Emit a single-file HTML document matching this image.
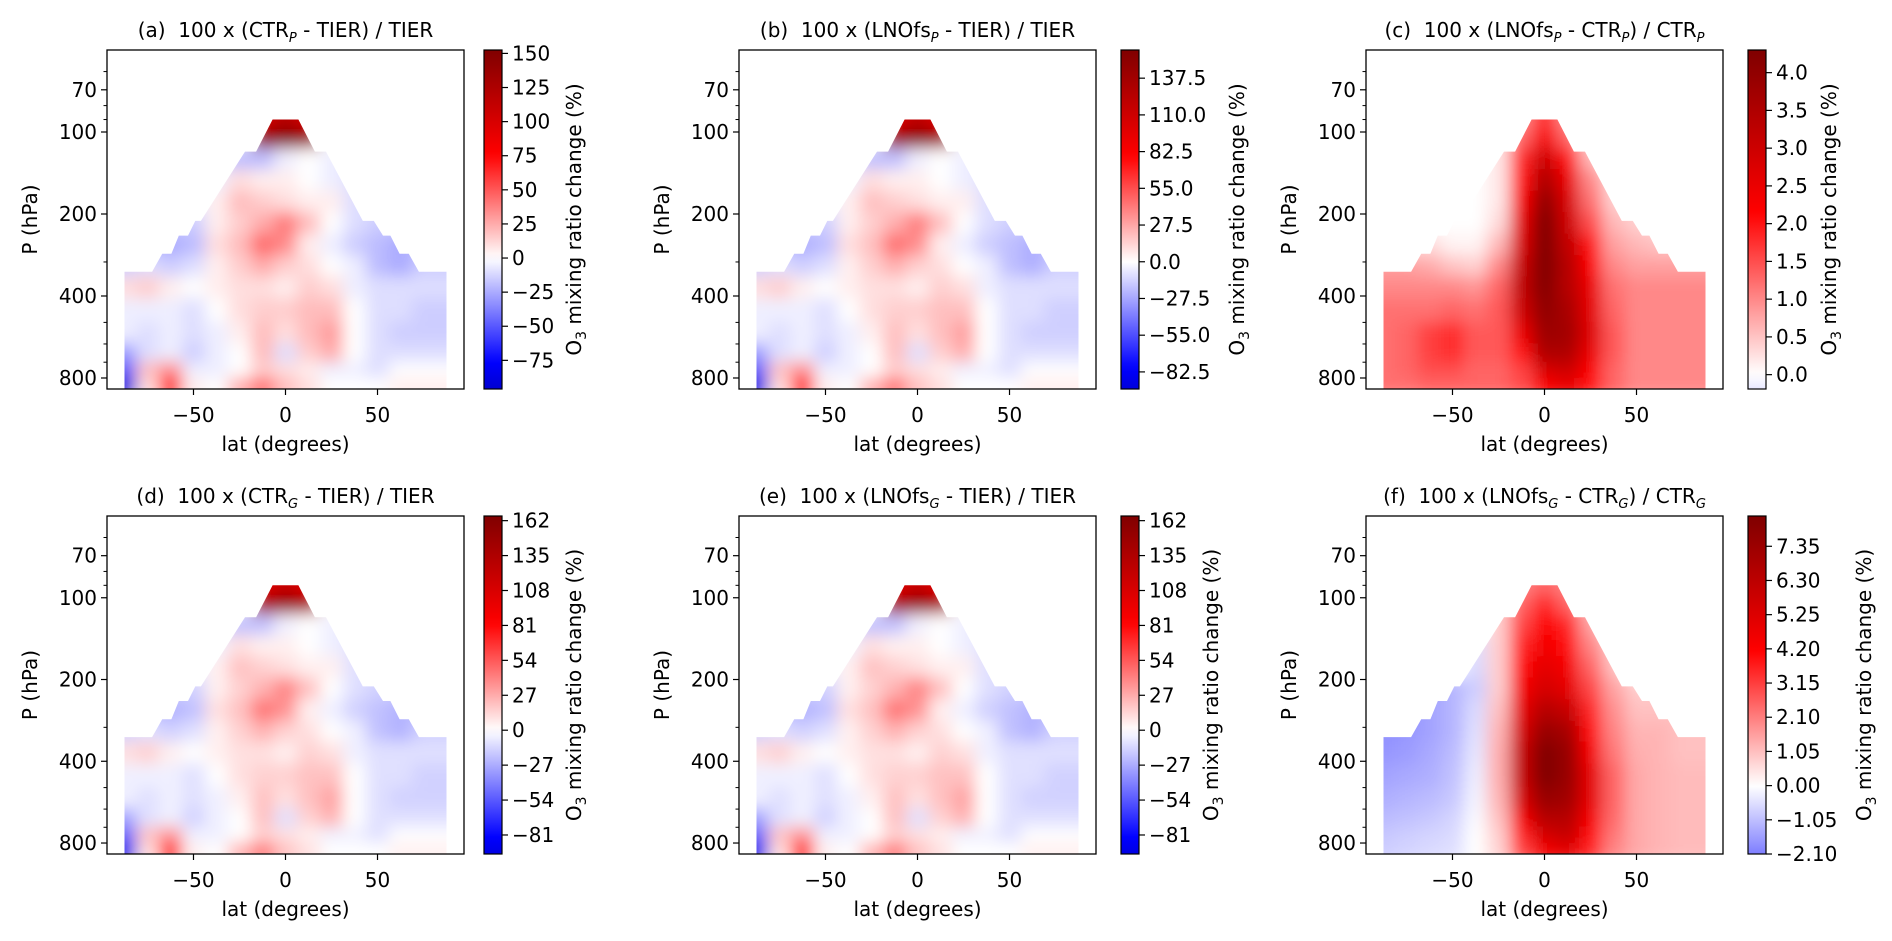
<!DOCTYPE html>
<html><head><meta charset="utf-8"><style>
html,body{margin:0;padding:0;background:#fff;}
svg{display:block;font-family:"DejaVu Sans","Liberation Sans",sans-serif;}
</style></head><body>
<svg id="fig" width="1892" height="941" viewBox="0 0 1892 941" xmlns="http://www.w3.org/2000/svg">
<defs>
<filter id="blur" filterUnits="userSpaceOnUse" x="0" y="0" width="1892" height="941"><feGaussianBlur stdDeviation="8"/></filter>
</defs>
</svg>
<script>
const lats = [-87.5,-75,-62.5,-50,-37.5,-25,-12.5,0,12.5,25,37.5,50,62.5,75,87.5];
const levels = [90,105,125,150,180,215,260,310,370,450,550,650,750,850];
const fieldA = [
[0,0,0,0,0,0,100,120,100,0,0,0,0,0,0],
[0,0,0,0,0,0,140,150,140,0,0,0,0,0,0],
[-10,-10,-10,-10,-10,-20,-20,-5,0,-5,-10,-10,-10,-10,-10],
[-5,-5,-5,-5,-5,10,5,5,0,-5,-10,-10,-10,-10,-10],
[0,0,0,-5,5,20,15,10,5,5,-10,-10,-10,-10,-10],
[-10,-10,-15,-15,5,15,25,40,20,0,-10,-15,-15,-15,-10],
[-15,-20,-25,-20,10,20,45,35,5,-5,-15,-20,-25,-20,-15],
[-15,-10,-15,-10,5,15,25,15,10,0,-5,-20,-25,-15,-15],
[10,15,5,0,5,10,10,5,15,10,-5,-10,-10,-10,-10],
[-5,-5,-5,-10,0,10,15,15,20,20,0,-10,-10,-15,-15],
[-5,-10,-5,-10,-5,5,20,10,20,30,0,-10,-15,-15,-15],
[-30,-10,-5,-15,-5,0,20,-10,15,25,0,-10,-10,-10,-10],
[-50,20,35,-5,-5,0,15,10,5,-5,-5,-10,0,0,0],
[-90,10,75,5,0,25,45,20,10,0,0,0,5,5,5]
];
const fieldC = [
[0,0,0,0,0,0.2,1.0,1.8,1.0,0.2,0,0,0,0,0],
[0,0,0,0,0,0.2,1.3,2.3,1.3,0.3,0,0,0,0,0],
[0,0,0,0,0,0.2,1.8,3.0,2.0,0.6,0,0,0,0,0],
[0,0,0,0,0,0.2,2.0,3.5,2.5,1.0,0.3,0,0,0,0],
[0,0,0,0,0,0.2,2.3,4.0,2.8,1.2,0.4,0.3,0,0,0],
[0,0,0,0,0,0.3,2.6,4.3,3.0,1.5,0.6,0.4,0.3,0,0],
[0.3,0.3,0.3,0.1,0.1,0.6,2.8,4.3,3.2,2.0,0.8,0.6,0.5,0.5,0.5],
[0.8,0.8,0.7,0.5,0.4,1.0,3.1,4.3,3.4,2.2,1.0,0.8,0.8,0.8,0.8],
[1.0,1.0,1.0,1.0,0.9,1.3,3.2,4.2,3.4,2.5,1.2,1.0,1.0,1.0,1.0],
[1.2,1.2,1.2,1.3,1.2,1.4,3.0,4.0,3.6,2.6,1.3,1.0,1.0,1.0,1.0],
[1.2,1.3,1.6,1.8,1.4,1.4,2.5,3.8,3.7,2.7,1.4,1.0,1.0,1.0,1.0],
[1.2,1.3,1.6,1.8,1.4,1.4,2.0,3.5,3.5,2.5,1.4,1.0,1.0,1.0,1.0],
[1.2,1.3,1.5,1.5,1.3,1.3,1.6,2.8,3.0,2.2,1.3,1.0,1.0,1.0,1.0],
[1.2,1.2,1.3,1.3,1.3,1.3,1.5,2.2,2.5,2.0,1.3,1.0,1.0,1.0,1.0]
];
const fieldF = [
[0,0,0,0,0,0.5,2.0,2.5,2.0,0.5,0,0,0,0,0],
[0,0,0,0,0,0.8,2.5,3.5,2.5,1.0,0,0,0,0,0],
[0,0,0,0,0,0.8,3.0,4.2,3.5,1.5,0,0,0,0,0],
[0,0,0,0,-0.5,0.8,3.5,4.5,4.0,2.0,0.8,0,0,0,0],
[0,0,0,0,-0.6,0.8,4.0,5.0,4.5,2.5,1.0,0,0,0,0],
[-1.8,-1.8,-1.5,-1.2,-0.8,0.8,4.5,5.5,5.0,3.0,1.5,0.8,0.8,0.8,0.8],
[-1.8,-1.8,-1.5,-1.2,-0.6,1.0,5.0,6.5,6.0,3.5,1.8,1.0,1.0,1.0,1.0],
[-1.8,-1.7,-1.5,-1.2,-0.5,1.2,5.5,7.5,7.0,4.0,2.0,1.2,1.2,1.0,1.0],
[-1.7,-1.6,-1.4,-1.1,-0.4,1.3,6.0,8.2,7.5,4.5,2.2,1.3,1.2,1.0,1.0],
[-1.5,-1.4,-1.3,-1.0,-0.3,1.3,6.0,8.2,7.5,5.0,2.5,1.4,1.2,1.1,1.1],
[-1.3,-1.2,-1.1,-0.9,-0.2,1.2,5.5,7.5,7.2,5.0,2.5,1.4,1.2,1.1,1.1],
[-1.1,-1.0,-0.9,-0.7,-0.1,1.0,4.5,6.5,6.5,4.5,2.4,1.4,1.2,1.1,1.1],
[-0.9,-0.8,-0.7,-0.6,0,0.8,3.5,5.5,6.0,4.0,2.2,1.4,1.2,1.1,1.1],
[-0.8,-0.7,-0.6,-0.5,0,0.7,3.0,4.5,5.0,3.5,2.0,1.4,1.2,1.1,1.1]
];
const outlineLat = [-87.5,-87.5,-72.5,-67,-62,-58,-53,-49,-46,-22,-16,-7,7,16,22,42,48,53,57,62,67,72.5,87.5,87.5];
const outlineP = [880,326,326,280,280,240,240,212,212,118,118,90,90,118,118,212,212,240,240,280,280,326,326,880];
const xTicks = [-50,0,50];
const yTicks = [70,100,200,400,800];
const yMinorTicks = [60,80,90,300,500,600,700];
const ticksA = [-75,-50,-25,0,25,50,75,100,125,150];
const ticksB = [-82.5,-55,-27.5,0,27.5,55,82.5,110,137.5];
const ticksC = [0,0.5,1.0,1.5,2.0,2.5,3.0,3.5,4.0];
const ticksD = [-81,-54,-27,0,27,54,81,108,135,162];
const ticksF = [-2.10,-1.05,0,1.05,2.10,3.15,4.20,5.25,6.30,7.35];
const rangeA = [-96,152.5];
const rangeB = [-95.3,158.6];
const rangeC = [-0.19,4.3];
const rangeD = [-95.7,165.6];
const rangeF = [-2.10,8.28];

const NS = "http://www.w3.org/2000/svg";
const fig = document.getElementById('fig');
function el(tag, attrs, parent){ const e=document.createElementNS(NS,tag); for(const k in attrs) e.setAttribute(k,attrs[k]); (parent||fig).appendChild(e); return e; }
function seismic(t){
  const st=[[0,[0,0,0.3]],[0.25,[0,0,1]],[0.5,[1,1,1]],[0.75,[1,0,0]],[1,[0.5,0,0]]];
  t=Math.max(0,Math.min(1,t));
  for(let i=0;i<st.length-1;i++){ if(t<=st[i+1][0]){ const f=(t-st[i][0])/(st[i+1][0]-st[i][0]); const c=st[i][1].map((v,k)=>Math.round(255*(v+(st[i+1][1][k]-v)*f))); return `rgb(${c[0]},${c[1]},${c[2]})`; } }
  return 'rgb(128,0,0)';
}
function fmt(v,dec){ const s=dec===0?String(Math.round(v)):v.toFixed(dec); return s.replace('-','\u2212'); }

const cols=[{ax:107,cb:484},{ax:739,cb:1121},{ax:1366,cb:1748}];
const rows=[{top:50,h:339},{top:516,h:338}];
const panels=[
 {key:'a',c:0,r:0,field:fieldA,range:rangeA,ticks:ticksA,dec:0,lab:79,title:'(a)  100 x (CTR<tspan font-style="italic" font-size="13" dy="5">P</tspan><tspan dy="-5"> - TIER) / TIER</tspan>'},
 {key:'b',c:1,r:0,field:fieldA,range:rangeB,ticks:ticksB,dec:1,lab:105,title:'(b)  100 x (LNOfs<tspan font-style="italic" font-size="13" dy="5">P</tspan><tspan dy="-5"> - TIER) / TIER</tspan>'},
 {key:'c',c:2,r:0,field:fieldC,range:rangeC,ticks:ticksC,dec:1,lab:70,title:'(c)  100 x (LNOfs<tspan font-style="italic" font-size="13" dy="5">P</tspan><tspan dy="-5"> - CTR</tspan><tspan font-style="italic" font-size="13" dy="5">P</tspan><tspan dy="-5">) / CTR</tspan><tspan font-style="italic" font-size="13" dy="5">P</tspan>'},
 {key:'d',c:0,r:1,field:fieldA,range:rangeD,ticks:ticksD,dec:0,lab:79,title:'(d)  100 x (CTR<tspan font-style="italic" font-size="13" dy="5">G</tspan><tspan dy="-5"> - TIER) / TIER</tspan>'},
 {key:'e',c:1,r:1,field:fieldA,range:rangeD,ticks:ticksD,dec:0,lab:79,title:'(e)  100 x (LNOfs<tspan font-style="italic" font-size="13" dy="5">G</tspan><tspan dy="-5"> - TIER) / TIER</tspan>'},
 {key:'f',c:2,r:1,field:fieldF,range:rangeF,ticks:ticksF,dec:2,lab:105,title:'(f)  100 x (LNOfs<tspan font-style="italic" font-size="13" dy="5">G</tspan><tspan dy="-5"> - CTR</tspan><tspan font-style="italic" font-size="13" dy="5">G</tspan><tspan dy="-5">) / CTR</tspan><tspan font-style="italic" font-size="13" dy="5">G</tspan>'}
];

panels.forEach(P=>{
  const L=cols[P.c].ax, W=357, T=rows[P.r].top, H=rows[P.r].h;
  const pTop=50, pBot=878;
  const xs=lat=>L+(lat+97)/194*W;
  const ys=p=>T+(Math.log(p)-Math.log(pTop))/(Math.log(pBot)-Math.log(pTop))*H;
  const vmax=P.range[1];
  const col=v=>seismic(0.5+v/(2*vmax));
  const g=el('g',{});
  
  
  const cp=el('clipPath',{id:'clip-'+P.key},g);
  const pts=outlineLat.map((la,i)=>xs(la).toFixed(1)+','+ys(outlineP[i]).toFixed(1)).join(' ');
  el('polygon',{points:pts},cp);
  const clipG=el('g',{'clip-path':'url(#clip-'+P.key+')'},g);
  
  
  const blurG=el('g',{filter:'url(#blur)'},clipG);
  for(let i=0;i<levels.length;i++){
    const p0=i===0?75:Math.sqrt(levels[i-1]*levels[i]);
    const p1=i===levels.length-1?950:Math.sqrt(levels[i]*levels[i+1]);
    for(let j=0;j<lats.length;j++){
      const a0=j===0?-110:(lats[j-1]+lats[j])/2;
      const a1=j===lats.length-1?110:(lats[j]+lats[j+1])/2;
      const r=el('rect',{x:xs(a0),y:ys(p0),width:xs(a1)-xs(a0)+0.5,height:ys(p1)-ys(p0)+0.5,fill:col(P.field[i][j])},blurG);
      
      
    }
  }
  const fr=el('rect',{x:L,y:T,width:W,height:H,fill:'none',stroke:'#000','stroke-width':1.3},g);
  
  
  xTicks.forEach(v=>{
    const x=xs(v);
    el('line',{x1:x,y1:T+H,x2:x,y2:T+H+6,stroke:'#000','stroke-width':1.2},g);
    const t=el('text',{x:x,y:T+H+33,'text-anchor':'middle','font-size':20},g);
    t.textContent=fmt(v,0);
    
    
  });
  const xl=el('text',{x:L+W/2,y:T+H+62,'text-anchor':'middle','font-size':20},g);
  xl.textContent='lat (degrees)';
  
  
  yTicks.forEach(v=>{
    const y=ys(v);
    el('line',{x1:L-6,y1:y,x2:L,y2:y,stroke:'#000','stroke-width':1.2},g);
    const t=el('text',{x:L-10,y:y+7,'text-anchor':'end','font-size':20},g);
    t.textContent=String(v);
    
    
  });
  yMinorTicks.forEach(v=>{ const y=ys(v); el('line',{x1:L-3.5,y1:y,x2:L,y2:y,stroke:'#000','stroke-width':1},g); });
  const yl=el('text',{x:0,y:0,'text-anchor':'middle','font-size':20,transform:`translate(${L-70},${T+H/2}) rotate(-90)`},g);
  yl.textContent='P (hPa)';
  
  
  const ti=el('text',{x:L+W/2,y:T-13,'text-anchor':'middle','font-size':20,'xml:space':'preserve'},g);
  ti.style.whiteSpace='pre';
  ti.innerHTML=P.title;
  
  
  const CB=cols[P.c].cb, CW=18;
  const [cmin,cmax]=P.range;
  const gid='grad-'+P.key;
  const lg=el('linearGradient',{id:gid,x1:0,y1:1,x2:0,y2:0},g);
  for(let k=0;k<=40;k++){ const v=cmin+(cmax-cmin)*k/40; el('stop',{offset:k/40,'stop-color':col(v)},lg); }
  const cbr=el('rect',{x:CB,y:T,width:CW,height:H,fill:'url(#'+gid+')',stroke:'#000','stroke-width':1.2},g);
  
  
  const cy=v=>T+H-(v-cmin)/(cmax-cmin)*H;
  P.ticks.forEach(v=>{
    const y=cy(v);
    el('line',{x1:CB+CW,y1:y,x2:CB+CW+6,y2:y,stroke:'#000','stroke-width':1.2},g);
    const t=el('text',{x:CB+CW+10,y:y+7,'font-size':20},g);
    t.textContent=fmt(v,P.dec);
    
    
  });
  const cl=el('text',{x:0,y:0,'text-anchor':'middle','font-size':20,transform:`translate(${CB+CW+P.lab},${T+H/2}) rotate(-90)`},g);
  cl.innerHTML='O<tspan font-size="14" dy="5">3</tspan><tspan dy="-5"> mixing ratio change (%)</tspan>';
  
  
});
</script>
</body></html>
